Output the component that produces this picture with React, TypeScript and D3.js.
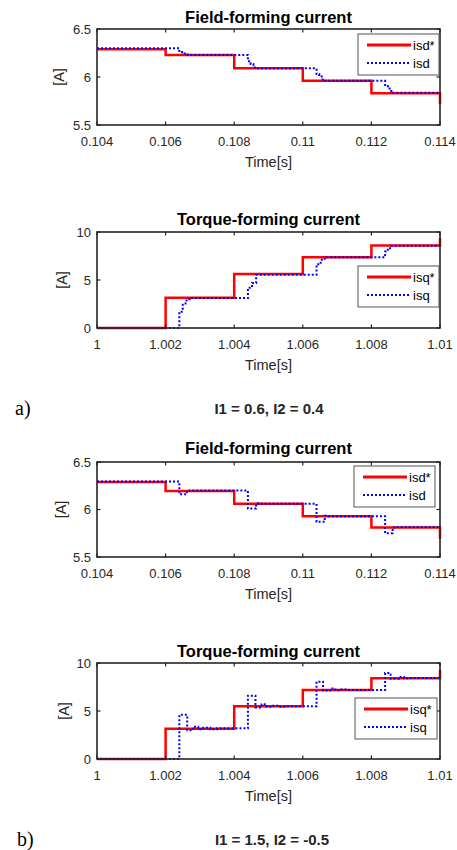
import React from "react";
import * as d3 from "d3";

// ---------- data ----------
const fieldXTicks = [0.104, 0.106, 0.108, 0.11, 0.112, 0.114];
const fieldXLabels = ["0.104", "0.106", "0.108", "0.11", "0.112", "0.114"];
const fieldYTicks = [5.5, 6, 6.5];
const fieldYLabels = ["5.5", "6", "6.5"];
const torqueXTicks = [1, 1.002, 1.004, 1.006, 1.008, 1.01];
const torqueXLabels = ["1", "1.002", "1.004", "1.006", "1.008", "1.01"];
const torqueYTicks = [0, 5, 10];
const torqueYLabels = ["0", "5", "10"];

// a) field-forming
const isdRefA_t = [0.104, 0.106, 0.108, 0.11, 0.112, 0.114, 0.114];
const isdRefA_v = [6.29, 6.23, 6.09, 5.96, 5.83, 5.83, 5.72];
const isdA_t = [0.104, 0.1064, 0.10648, 0.10656, 0.10664, 0.1084, 0.10848, 0.10856, 0.10864, 0.1104, 0.11048, 0.11058, 0.1124, 0.11248, 0.11258, 0.114];
const isdA_v = [6.3, 6.26, 6.245, 6.235, 6.23, 6.165, 6.135, 6.1, 6.09, 6.03, 6.005, 5.96, 5.905, 5.88, 5.835, 5.835];

// a) torque-forming
const isqRefA_t = [1, 1.002, 1.004, 1.006, 1.008, 1.01, 1.01];
const isqRefA_v = [0, 3.15, 5.63, 7.38, 8.6, 8.6, 9.37];
const isqA_t = [1, 1.0024, 1.0025, 1.00261, 1.0027, 1.0044, 1.00452, 1.00464, 1.0064, 1.00652, 1.00664, 1.0084, 1.00848, 1.00858, 1.01];
const isqA_v = [0, 1.7, 2.55, 3.0, 3.12, 4.2, 4.7, 5.55, 6.64, 7.1, 7.36, 7.97, 8.32, 8.58, 8.58];

// b) field-forming
const isdRefB_t = [0.104, 0.106, 0.108, 0.11, 0.112, 0.114, 0.114];
const isdRefB_v = [6.29, 6.195, 6.06, 5.93, 5.81, 5.81, 5.69];
const isdB_t = [0.104, 0.1064, 0.10662, 0.1067, 0.1084, 0.10864, 0.1087, 0.1104, 0.11064, 0.1107, 0.1124, 0.11262, 0.1127, 0.114];
const isdB_v = [6.295, 6.16, 6.185, 6.2, 6.01, 6.065, 6.06, 5.87, 5.935, 5.93, 5.75, 5.81, 5.815, 5.815];

// b) torque-forming
const isqRefB_t = [1, 1.002, 1.004, 1.006, 1.008, 1.01, 1.01];
const isqRefB_v = [0, 3.15, 5.5, 7.2, 8.4, 8.4, 9.3];
const isqB_t = [1, 1.0024, 1.00263, 1.0028, 1.00295, 1.0031, 1.0033, 1.0035, 1.0044, 1.00462, 1.0048, 1.00495, 1.0051, 1.0053, 1.0055, 1.0064, 1.00659, 1.0068, 1.00695, 1.0071, 1.0073, 1.0084, 1.00856, 1.0088, 1.00895, 1.0091, 1.01];
const isqB_v = [0, 4.6, 3.0, 3.37, 3.1, 3.25, 3.1, 3.2, 6.6, 5.36, 5.7, 5.45, 5.55, 5.45, 5.5, 8.05, 7.13, 7.35, 7.15, 7.25, 7.2, 8.95, 8.35, 8.55, 8.4, 8.45, 8.45];

const FONT = "'Liberation Sans', Arial, Helvetica, sans-serif";

type PanelProps = {
  top: number;
  bottom: number;
  title: string;
  titleY: number;
  xDomain: [number, number];
  yDomain: [number, number];
  xTicks: number[];
  xLabels: string[];
  yTicks: number[];
  yLabels: string[];
  refT: number[];
  refV: number[];
  measT: number[];
  measV: number[];
  refName: string;
  measName: string;
  legend: { x: number; y: number; w: number; h: number };
  yLabelX: number;
};

const LEFT = 97;
const RIGHT = 440;

function Panel(p: PanelProps) {
  const x = d3.scaleLinear().domain(p.xDomain).range([LEFT, RIGHT]);
  const y = d3.scaleLinear().domain(p.yDomain).range([p.bottom, p.top]);
  const line = d3
    .line<[number, number]>()
    .x((d) => x(d[0]))
    .y((d) => y(d[1]))
    .curve(d3.curveStepAfter);
  const refPts = p.refT.map((t, i) => [t, p.refV[i]] as [number, number]);
  const measPts = p.measT.map((t, i) => [t, p.measV[i]] as [number, number]);
  const axisColor = "#262626";
  const tl = 3.5;
  const L = p.legend;
  return (
    <g>
      <text x={(LEFT + RIGHT) / 2} y={p.titleY} textAnchor="middle" fontFamily={FONT} fontWeight="bold" fontSize={16.5} fill="#000">
        {p.title}
      </text>
      <path d={line(refPts) || ""} fill="none" stroke="#ff0000" strokeWidth={2.5} />
      <path d={line(measPts) || ""} fill="none" stroke="#0000ff" strokeWidth={2} strokeDasharray="2 2" />
      {/* box */}
      <rect x={LEFT} y={p.top} width={RIGHT - LEFT} height={p.bottom - p.top} fill="none" stroke={axisColor} strokeWidth={1.6} />
      {p.xTicks.map((t, i) => (
        <g key={"xt" + i}>
          <line x1={x(t)} x2={x(t)} y1={p.bottom} y2={p.bottom - tl} stroke={axisColor} strokeWidth={1.2} />
          <line x1={x(t)} x2={x(t)} y1={p.top} y2={p.top + tl} stroke={axisColor} strokeWidth={1.2} />
          <text x={x(t)} y={p.bottom + 20.5} textAnchor="middle" fontFamily={FONT} fontSize={13} fill={axisColor}>
            {p.xLabels[i]}
          </text>
        </g>
      ))}
      {p.yTicks.map((t, i) => (
        <g key={"yt" + i}>
          <line x1={LEFT} x2={LEFT + tl} y1={y(t)} y2={y(t)} stroke={axisColor} strokeWidth={1.2} />
          <line x1={RIGHT} x2={RIGHT - tl} y1={y(t)} y2={y(t)} stroke={axisColor} strokeWidth={1.2} />
          <text x={91} y={y(t)} dy="0.35em" textAnchor="end" fontFamily={FONT} fontSize={13} fill={axisColor}>
            {p.yLabels[i]}
          </text>
        </g>
      ))}
      <text x={(LEFT + RIGHT) / 2} y={p.bottom + 42} textAnchor="middle" fontFamily={FONT} fontSize={14.5} fill={axisColor}>
        Time[s]
      </text>
      <text
        transform={`translate(${p.yLabelX},${(p.top + p.bottom) / 2}) rotate(-90)`}
        textAnchor="middle"
        dy="0.35em"
        fontFamily={FONT}
        fontSize={14.5}
        fill={axisColor}
      >
        [A]
      </text>
      {/* legend */}
      <rect x={L.x} y={L.y} width={L.w} height={L.h} fill="#fff" stroke="#555" strokeWidth={1} />
      <line x1={L.x + 9} x2={L.x + 53} y1={L.y + 11} y2={L.y + 11} stroke="#ff0000" strokeWidth={2.8} />
      <line x1={L.x + 9} x2={L.x + 53} y1={L.y + 29} y2={L.y + 29} stroke="#0000ff" strokeWidth={2} strokeDasharray="2 2" />
      <text x={L.x + 55} y={L.y + 11} dy="0.35em" fontFamily={FONT} fontSize={13} fill="#000">
        {p.refName}
      </text>
      <text x={L.x + 55} y={L.y + 29} dy="0.35em" fontFamily={FONT} fontSize={13} fill="#000">
        {p.measName}
      </text>
    </g>
  );
}

export default function App() {
  return (
    <svg width={457} height={850} style={{ position: "absolute", left: 0, top: 0, background: "#fff" }}>
      <rect x={0} y={0} width={457} height={850} fill="#fff" />
      <Panel
        top={29}
        bottom={125}
        title="Field-forming current"
        titleY={22.5}
        xDomain={[0.104, 0.114]}
        yDomain={[5.5, 6.5]}
        xTicks={fieldXTicks}
        xLabels={fieldXLabels}
        yTicks={fieldYTicks}
        yLabels={fieldYLabels}
        refT={isdRefA_t}
        refV={isdRefA_v}
        measT={isdA_t}
        measV={isdA_v}
        refName="isd*"
        measName="isd"
        legend={{ x: 358, y: 34, w: 81, h: 41 }}
        yLabelX={59}
      />
      <Panel
        top={232}
        bottom={328}
        title="Torque-forming current"
        titleY={225}
        xDomain={[1, 1.01]}
        yDomain={[0, 10]}
        xTicks={torqueXTicks}
        xLabels={torqueXLabels}
        yTicks={torqueYTicks}
        yLabels={torqueYLabels}
        refT={isqRefA_t}
        refV={isqRefA_v}
        measT={isqA_t}
        measV={isqA_v}
        refName="isq*"
        measName="isq"
        legend={{ x: 358, y: 266, w: 81, h: 41 }}
        yLabelX={62}
      />
      <text x={15} y={415} fontFamily="'Liberation Serif', 'Times New Roman', serif" fontSize={20} fill="#000">
        a)
      </text>
      <text x={269} y={414} textAnchor="middle" fontFamily={FONT} fontWeight="bold" fontSize={15} fill="#262626">
        I1 = 0.6, I2 = 0.4
      </text>
      <Panel
        top={462}
        bottom={557}
        title="Field-forming current"
        titleY={454}
        xDomain={[0.104, 0.114]}
        yDomain={[5.5, 6.5]}
        xTicks={fieldXTicks}
        xLabels={fieldXLabels}
        yTicks={fieldYTicks}
        yLabels={fieldYLabels}
        refT={isdRefB_t}
        refV={isdRefB_v}
        measT={isdB_t}
        measV={isdB_v}
        refName="isd*"
        measName="isd"
        legend={{ x: 354, y: 466, w: 81, h: 41 }}
        yLabelX={61}
      />
      <Panel
        top={663}
        bottom={759}
        title="Torque-forming current"
        titleY={656.5}
        xDomain={[1, 1.01]}
        yDomain={[0, 10]}
        xTicks={torqueXTicks}
        xLabels={torqueXLabels}
        yTicks={torqueYTicks}
        yLabels={torqueYLabels}
        refT={isqRefB_t}
        refV={isqRefB_v}
        measT={isqB_t}
        measV={isqB_v}
        refName="isq*"
        measName="isq"
        legend={{ x: 355, y: 698, w: 82, h: 41 }}
        yLabelX={64}
      />
      <text x={17} y={846} fontFamily="'Liberation Serif', 'Times New Roman', serif" fontSize={20} fill="#000">
        b)
      </text>
      <text x={272} y={845} textAnchor="middle" fontFamily={FONT} fontWeight="bold" fontSize={15} fill="#262626">
        I1 = 1.5, I2 = -0.5
      </text>
    </svg>
  );
}
